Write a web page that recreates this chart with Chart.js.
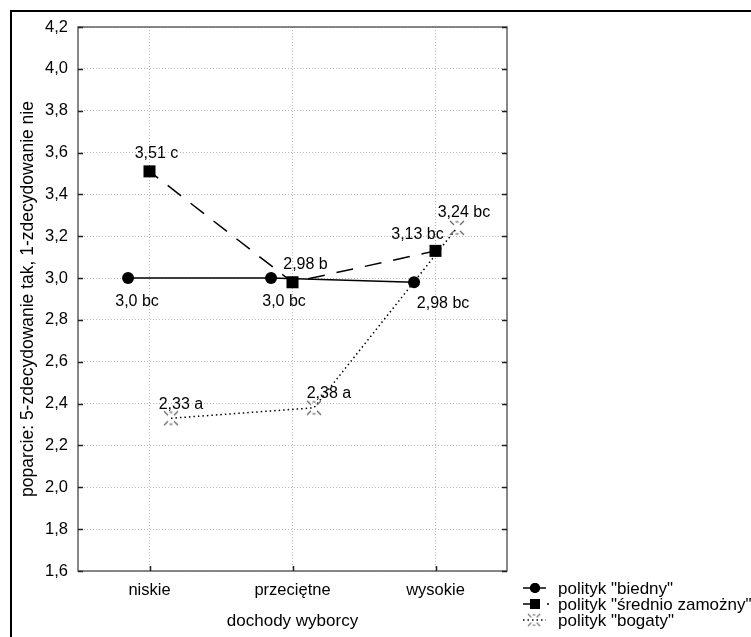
<!DOCTYPE html>
<html>
<head>
<meta charset="utf-8">
<script src="https://cdn.jsdelivr.net/npm/chart.js@4.4.0/dist/chart.umd.min.js"></script>
<style>
  html, body { margin: 0; padding: 0; background: #fff; }
  #wrap { width: 751px; height: 637px; position: relative; }
</style>
</head>
<body>
<div id="wrap"><canvas id="chart"></canvas></div>
<script>
// dane
const categories = ['niskie', 'przeciętne', 'wysokie'];
const seriesNames = ['polityk "biedny"', 'polityk "średnio zamożny"', 'polityk "bogaty"'];
const biedny = [3.0, 3.0, 2.98];
const srednio = [3.51, 2.98, 3.13];
const bogaty = [2.33, 2.38, 3.24];
const biednyLabels = ['3,0 bc', '3,0 bc', '2,98 bc'];
const srednioLabels = ['3,51 c', '2,98 b', '3,13 bc'];
const bogatyLabels = ['2,33 a', '2,38 a', '3,24 bc'];
const yTicks = [1.6, 1.8, 2.0, 2.2, 2.4, 2.6, 2.8, 3.0, 3.2, 3.4, 3.6, 3.8, 4.0, 4.2];

const FONT = 'Liberation Sans, Arial, sans-serif';

// marker "bogaty" - przerywany krzyzyk
function starMarker() {
    const c = document.createElement('canvas');
    c.width = 16; c.height = 16;
    const g = c.getContext('2d');
    g.strokeStyle = '#666';
    g.lineWidth = 1.2;
    const segs = [[1, 1, 5, 5], [15, 1, 11, 5], [1, 15, 5, 11], [15, 15, 11, 11], [6.5, 2, 9.5, 2], [6.5, 14, 9.5, 14]];
    segs.forEach(s => { g.beginPath(); g.moveTo(s[0], s[1]); g.lineTo(s[2], s[3]); g.stroke(); });
    return c;
}
const star = starMarker();

const shift = [-0.15, 0, 0.15];
const toPoints = (vals, k) => vals.map((v, i) => ({ x: i + 1 + shift[k], y: v }));

const labelOffsets = [
    [[9, 24], [13, 24], [29, 21]],
    [[7, -18], [13, -18], [-18, -16]],
    [[10, -14], [15, -14], [7, -15]]
];
const pointLabels = [biednyLabels, srednioLabels, bogatyLabels];

const decor = {
    id: 'decor',
    beforeDraw(chart) {
        const ctx = chart.ctx;
        ctx.save();
        ctx.fillStyle = '#fff';
        ctx.fillRect(0, 0, chart.width, chart.height);
        ctx.strokeStyle = '#000';
        ctx.lineWidth = 2;
        ctx.beginPath();
        ctx.moveTo(11, chart.height);
        ctx.lineTo(11, 11);
        ctx.lineTo(chart.width, 11);
        ctx.stroke();
        ctx.restore();
    },
    beforeDatasetsDraw(chart) {
        const { ctx, chartArea: a, scales } = chart;
        ctx.save();
        ctx.strokeStyle = '#606060';
        ctx.lineWidth = 1.5;
        ctx.strokeRect(a.left, a.top, a.right - a.left, a.bottom - a.top);
        ctx.strokeStyle = '#202020';
        ctx.beginPath();
        yTicks.forEach(v => {
            const y = Math.round(scales.y.getPixelForValue(v)) + 0.5;
            ctx.moveTo(a.left, y); ctx.lineTo(a.left + 5, y);
            ctx.moveTo(a.right, y); ctx.lineTo(a.right - 5, y);
        });
        categories.forEach((c, i) => {
            const x = Math.round(scales.x.getPixelForValue(i + 1)) + 0.5;
            ctx.moveTo(x, a.bottom); ctx.lineTo(x, a.bottom - 5);
        });
        ctx.stroke();
        ctx.restore();
    },
    afterDatasetsDraw(chart) {
        const ctx = chart.ctx;
        ctx.save();
        ctx.font = '16px ' + FONT;
        ctx.fillStyle = '#000';
        ctx.textAlign = 'center';
        ctx.textBaseline = 'middle';
        chart.data.datasets.forEach((ds, k) => {
            chart.getDatasetMeta(k).data.forEach((pt, i) => {
                const o = labelOffsets[k][i];
                ctx.fillText(pointLabels[k][i], pt.x + o[0], pt.y + o[1]);
            });
        });
        // legenda
        const rows = [588, 604, 620];
        ctx.textAlign = 'left';
        chart.data.datasets.forEach((ds, k) => {
            const y = rows[k];
            ctx.save();
            ctx.strokeStyle = '#000';
            ctx.lineWidth = 1.5;
            ctx.setLineDash(k === 2 ? ds.borderDash : []);
            ctx.beginPath();
            if (k === 1) {
                ctx.moveTo(523, y); ctx.lineTo(533, y);
                ctx.moveTo(547, y); ctx.lineTo(549, y);
            } else {
                ctx.moveTo(523, y); ctx.lineTo(546, y);
            }
            ctx.stroke();
            ctx.restore();
            if (k === 2) {
                ctx.drawImage(star, 534 - 7, y - 7, 14, 14);
            } else {
                Chart.helpers.drawPoint(ctx, {
                    pointStyle: ds.pointStyle, radius: k === 0 ? 5 : 7, borderWidth: 0
                }, 535, y);
                ctx.fillStyle = '#000';
                ctx.fill();
            }
            ctx.fillStyle = '#000';
            ctx.font = '17px ' + FONT;
            ctx.fillText(seriesNames[k], 558, y + 1);
        });
        ctx.restore();
    }
};

new Chart(document.getElementById('chart'), {
    type: 'line',
    data: {
        datasets: [
            {
                label: seriesNames[0],
                data: toPoints(biedny, 0),
                borderColor: '#000',
                borderWidth: 1.5,
                pointStyle: 'circle',
                pointRadius: 6,
                pointBackgroundColor: '#000',
                pointBorderWidth: 0
            },
            {
                label: seriesNames[1],
                data: toPoints(srednio, 1),
                borderColor: '#000',
                borderWidth: 1.5,
                borderDash: [17, 12],
                borderDashOffset: 6,
                pointStyle: 'rect',
                pointRadius: 8.5,
                pointBackgroundColor: '#000',
                pointBorderWidth: 0
            },
            {
                label: seriesNames[2],
                data: toPoints(bogaty, 2),
                borderColor: '#000',
                borderWidth: 1.5,
                borderDash: [1.5, 3],
                pointStyle: star,
                pointRadius: 7
            }
        ]
    },
    options: {
        responsive: true,
        maintainAspectRatio: false,
        animation: false,
        events: [],
        layout: { padding: { left: 0, right: 244, top: 27, bottom: 0 } },
        plugins: { legend: { display: false }, tooltip: { enabled: false } },
        scales: {
            x: {
                type: 'linear',
                min: 0.5,
                max: 3.5,
                afterBuildTicks: s => { s.ticks = categories.map((c, i) => ({ value: i + 1 })); },
                afterFit: s => { s.height = 66; },
                ticks: {
                    callback: v => categories[v - 1],
                    color: '#000',
                    font: { family: FONT, size: 16.5 },
                    padding: 10,
                    maxRotation: 0
                },
                grid: { color: '#b8b8b8', drawTicks: false, lineWidth: 1 },
                border: { display: false, dash: [1, 2] },
                title: {
                    display: true,
                    text: 'dochody wyborcy',
                    color: '#000',
                    font: { family: FONT, size: 17 },
                    padding: { top: 0, bottom: 5 }
                }
            },
            y: {
                min: 1.6,
                max: 4.2,
                afterBuildTicks: s => { s.ticks = yTicks.map(v => ({ value: v })); },
                afterFit: s => { s.width = 78; },
                ticks: {
                    callback: v => v.toFixed(1).replace('.', ','),
                    color: '#000',
                    font: { family: FONT, size: 16.5 },
                    padding: 10
                },
                grid: { color: '#b8b8b8', drawTicks: false, lineWidth: 1 },
                border: { display: false, dash: [1, 2] },
                title: {
                    display: true,
                    text: 'poparcie: 5-zdecydowanie tak, 1-zdecydowanie nie',
                    color: '#000',
                    font: { family: FONT, size: 17.5 },
                    padding: { top: 18, bottom: 0 }
                }
            }
        }
    },
    plugins: [decor]
});
</script>
</body>
</html>
